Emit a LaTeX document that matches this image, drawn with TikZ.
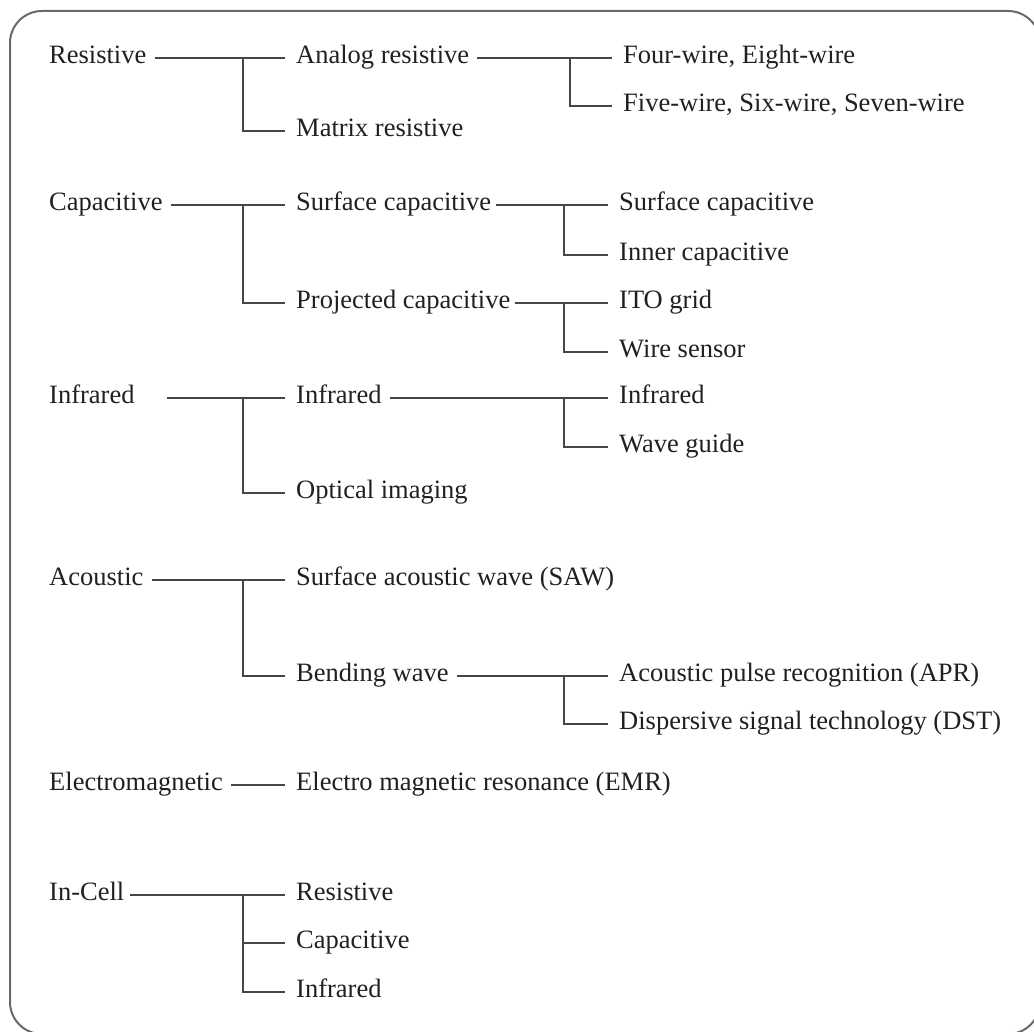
\documentclass[tikz,border=0pt]{standalone}
\usepackage{fontspec}
\setmainfont{Liberation Serif}
\definecolor{txt}{RGB}{35,31,32}
\definecolor{wire}{RGB}{70,70,70}
\definecolor{frame}{RGB}{105,105,105}
\begin{document}
\begin{tikzpicture}[x=1pt,y=1pt,yscale=-1,
  lbl/.style={anchor=west, inner sep=0pt, text height=18pt, text depth=6.5pt,
    font=\fontsize{26.5}{30}\selectfont, text=txt},
  conn/.style={draw=wire, line width=1.3pt, shorten <=8pt, shorten >=11pt},
  br/.style={draw=wire, line width=1.3pt, shorten >=11pt}]
\useasboundingbox (0,0) rectangle (1034,1032);
\clip (0,0) rectangle (1034,1032);

%Shape: Frame
\draw [frame, line width=2pt, rounded corners=32pt] (10,11) rectangle (1040,1034);

% Resistive
\node [lbl] (res) at (49,58) {Resistive};
\node [lbl] (anres) at (296,58) {Analog resistive};
\node [lbl] (matres) at (296,131) {Matrix resistive};
\node [lbl] (fourw) at (623,58) {Four-wire, Eight-wire};
\node [lbl] (fivew) at (623,106) {Five-wire, Six-wire, Seven-wire};
\coordinate (jres) at (243,58);
\coordinate (janres) at (570,58);
\draw [conn] (res.east) -- (anres.west);
\draw [br] (jres) |- (matres.west);
\draw [conn] (anres.east) -- (fourw.west);
\draw [br] (janres) |- (fivew.west);

% Capacitive
\node [lbl] (cap) at (49,205) {Capacitive};
\node [lbl] (surcap) at (296,205) {Surface capacitive};
\node [lbl] (procap) at (296,303) {Projected capacitive};
\node [lbl] (surcapb) at (619,205) {Surface capacitive};
\node [lbl] (inncap) at (619,255) {Inner capacitive};
\node [lbl] (itogrid) at (619,303) {ITO grid};
\node [lbl] (wiresen) at (619,352) {Wire sensor};
\coordinate (jcap) at (243,205);
\coordinate (jsurcap) at (564,205);
\coordinate (jprocap) at (564,303);
\draw [conn] (cap.east) -- (surcap.west);
\draw [br] (jcap) |- (procap.west);
\draw [conn, shorten <=5pt] (surcap.east) -- (surcapb.west);
\draw [br] (jsurcap) |- (inncap.west);
\draw [conn, shorten <=4pt] (procap.east) -- (itogrid.west);
\draw [br] (jprocap) |- (wiresen.west);

% Infrared
\node [lbl] (inf) at (49,398) {Infrared};
\node [lbl] (infb) at (296,398) {Infrared};
\node [lbl] (optimg) at (296,493) {Optical imaging};
\node [lbl] (infc) at (619,398) {Infrared};
\node [lbl] (waveg) at (619,447) {Wave guide};
\coordinate (inf0) at (167,398);
\coordinate (jinf) at (243,398);
\coordinate (jinfb) at (564,398);
\draw [br] (inf0) -- (infb.west);
\draw [br] (jinf) |- (optimg.west);
\draw [conn] (infb.east) -- (infc.west);
\draw [br] (jinfb) |- (waveg.west);

% Acoustic
\node [lbl] (aco) at (49,580) {Acoustic};
\node [lbl] (saw) at (296,580) {Surface acoustic wave (SAW)};
\node [lbl] (bendw) at (296,676) {Bending wave};
\node [lbl] (apr) at (619,676) {Acoustic pulse recognition (APR)};
\node [lbl] (dst) at (619,724) {Dispersive signal technology (DST)};
\coordinate (jaco) at (243,580);
\coordinate (jbendw) at (564,676);
\draw [conn] (aco.east) -- (saw.west);
\draw [br] (jaco) |- (bendw.west);
\draw [conn] (bendw.east) -- (apr.west);
\draw [br] (jbendw) |- (dst.west);

% Electromagnetic
\node [lbl] (elm) at (49,785) {Electromagnetic};
\node [lbl] (emr) at (296,785) {Electro magnetic resonance (EMR)};
\draw [conn] (elm.east) -- (emr.west);

% In-Cell
\node [lbl] (incell) at (49,895) {In-Cell};
\node [lbl] (icres) at (296,895) {Resistive};
\node [lbl] (iccap) at (296,943) {Capacitive};
\node [lbl] (icinf) at (296,992) {Infrared};
\coordinate (jincell) at (243,895);
\draw [conn, shorten <=6pt] (incell.east) -- (icres.west);
\draw [br] (jincell) |- (iccap.west);
\draw [br] (jincell) |- (icinf.west);

\end{tikzpicture}
\end{document}
